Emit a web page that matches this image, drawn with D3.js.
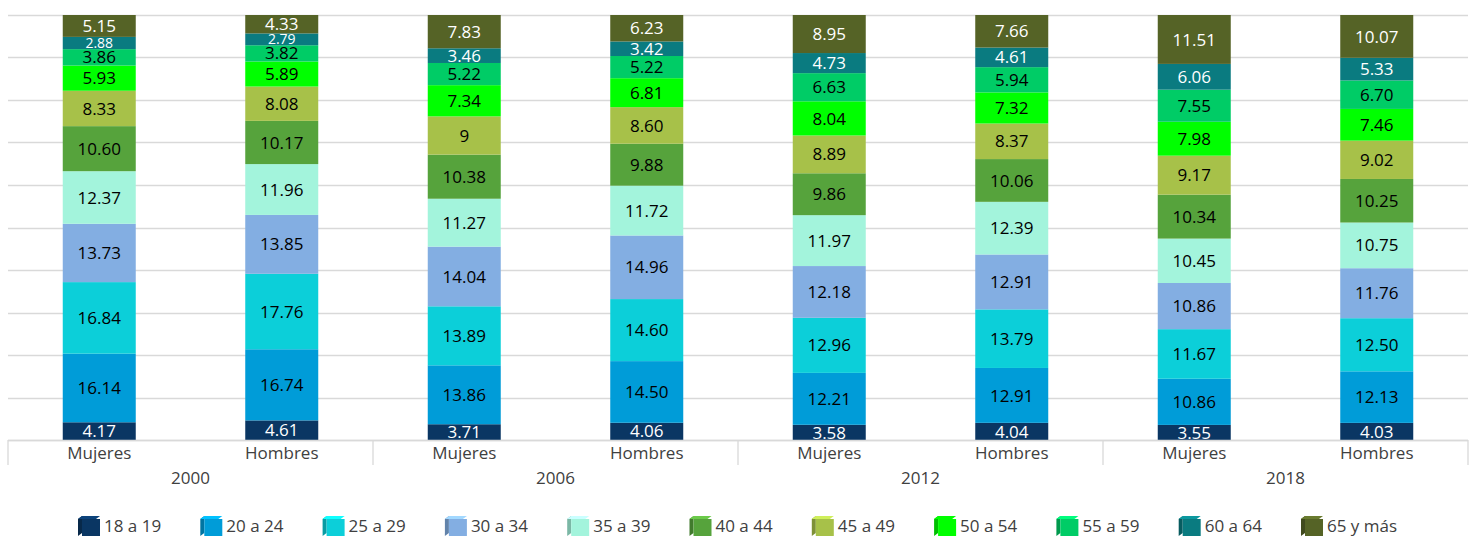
<!DOCTYPE html>
<html><head><meta charset="utf-8">
<script src="https://cdn.jsdelivr.net/npm/d3@7"></script>
<style>
html,body{margin:0;padding:0;background:#fff;}
svg{display:block;font-family:"Open Sans",sans-serif;}
</style></head>
<body><svg id="c" width="1474" height="536"></svg>
<script>
const years = ["2000","2006","2012","2018"];
const sexes = ["Mujeres","Hombres"];
const groups = ["18 a 19","20 a 24","25 a 29","30 a 34","35 a 39","40 a 44","45 a 49","50 a 54","55 a 59","60 a 64","65 y más"];
const colors = ["#0A3663","#009CD8","#0CCFD9","#83AEE2","#A3F4DC","#56A33C","#A7C149","#00FF00","#00CC66","#0A7B80","#556326"];
const lightLabel = ["18 a 19","60 a 64","65 y más"];
const m2000 = ["4.17","16.14","16.84","13.73","12.37","10.60","8.33","5.93","3.86","2.88","5.15"];
const h2000 = ["4.61","16.74","17.76","13.85","11.96","10.17","8.08","5.89","3.82","2.79","4.33"];
const m2006 = ["3.71","13.86","13.89","14.04","11.27","10.38","9","7.34","5.22","3.46","7.83"];
const h2006 = ["4.06","14.50","14.60","14.96","11.72","9.88","8.60","6.81","5.22","3.42","6.23"];
const m2012 = ["3.58","12.21","12.96","12.18","11.97","9.86","8.89","8.04","6.63","4.73","8.95"];
const h2012 = ["4.04","12.91","13.79","12.91","12.39","10.06","8.37","7.32","5.94","4.61","7.66"];
const m2018 = ["3.55","10.86","11.67","10.86","10.45","10.34","9.17","7.98","7.55","6.06","11.51"];
const h2018 = ["4.03","12.13","12.50","11.76","10.75","10.25","9.02","7.46","6.70","5.33","10.07"];
const series = [m2000,h2000,m2006,h2006,m2012,h2012,m2018,h2018];

const bars = [];
years.forEach((y,i)=>sexes.forEach((s,j)=>bars.push({key:y+"|"+s,year:y,sex:s,vals:series[i*2+j]})));

const svg = d3.select("#c");
const L=8,R=1468,T=15,B=440;
const x = d3.scaleBand().domain(bars.map(b=>b.key)).range([L,R]).paddingInner(0.6).paddingOuter(0.3);
const xg = d3.scaleBand().domain(years).range([L,R]);
const y = d3.scaleLinear().domain([0,1]).range([B,T]);

// gridlines
svg.append("g").selectAll("line").data(d3.range(0,1.0001,0.1)).join("line")
  .attr("x1",L).attr("x2",R).attr("y1",d=>Math.round(y(d))+0.5).attr("y2",d=>Math.round(y(d))+0.5)
  .attr("stroke","#D9D9D9").attr("stroke-width",1.3);

// bars
bars.forEach(b=>{
  const v=b.vals.map(Number); const tot=d3.sum(v);
  let acc=0;
  const g=svg.append("g");
  v.forEach((val,k)=>{
    const y0=y(acc/tot), y1=y((acc+val)/tot); acc+=val;
    g.append("rect").attr("x",x(b.key)).attr("width",x.bandwidth()).attr("y",y1).attr("height",y0-y1).attr("fill",colors[k]);
  });
  acc=0;
  v.forEach((val,k)=>{
    const y0=y(acc/tot), y1=y((acc+val)/tot); acc+=val;
    const small = (y0-y1)<13;
    g.append("text").attr("x",x(b.key)+x.bandwidth()/2).attr("y",(y0+y1)/2)
      .attr("text-anchor","middle").attr("dy","0.36em")
      .attr("font-size",small?14:17)
      .attr("fill",lightLabel.includes(groups[k])?"#FFFFFF":"#000000")
      .text(b.vals[k]);
  });
});

// axis
const ax=svg.append("g");
ax.append("line").attr("x1",L).attr("x2",R).attr("y1",B+0.5).attr("y2",B+0.5).attr("stroke","#D9D9D9").attr("stroke-width",1.3);
const seps=[L].concat(years.map(yy=>xg(yy)+xg.bandwidth()));
ax.selectAll("line.sep").data(seps).join("line").attr("class","sep")
  .attr("x1",d=>d).attr("x2",d=>d).attr("y1",B).attr("y2",465).attr("stroke","#D9D9D9").attr("stroke-width",1.3);
ax.selectAll("text.cat").data(bars).join("text").attr("class","cat")
  .attr("x",b=>x(b.key)+x.bandwidth()/2).attr("y",453).attr("dy","0.36em")
  .attr("text-anchor","middle").attr("font-size",17).attr("fill","#404040").text(b=>b.sex);
ax.selectAll("text.yr").data(years).join("text").attr("class","yr")
  .attr("x",d=>xg(d)+xg.bandwidth()/2).attr("y",478).attr("dy","0.36em")
  .attr("text-anchor","middle").attr("font-size",17).attr("fill","#404040").text(d=>d);

// legend
const lg=svg.append("g");
const lx = d3.scalePoint().domain(groups).range([78,1301]);
groups.forEach((gname,k)=>{
  const g0=lg.append("g").attr("transform",`translate(${lx(gname)},516)`);
  const c=d3.color(colors[k]);
  g0.append("polygon").attr("points","0,3 4,0 4,17 0,20").attr("fill",c.darker(0.8));
  g0.append("polygon").attr("points","0,3 4,0 22,0 18,3").attr("fill",c.brighter(0.6));
  g0.append("rect").attr("x",4).attr("y",3).attr("width",18).attr("height",17).attr("fill",colors[k]);
  g0.append("text").attr("x",26).attr("y",10).attr("dy","0.36em").attr("font-size",17).attr("fill","#404040").text(gname);
});
</script></body></html>
